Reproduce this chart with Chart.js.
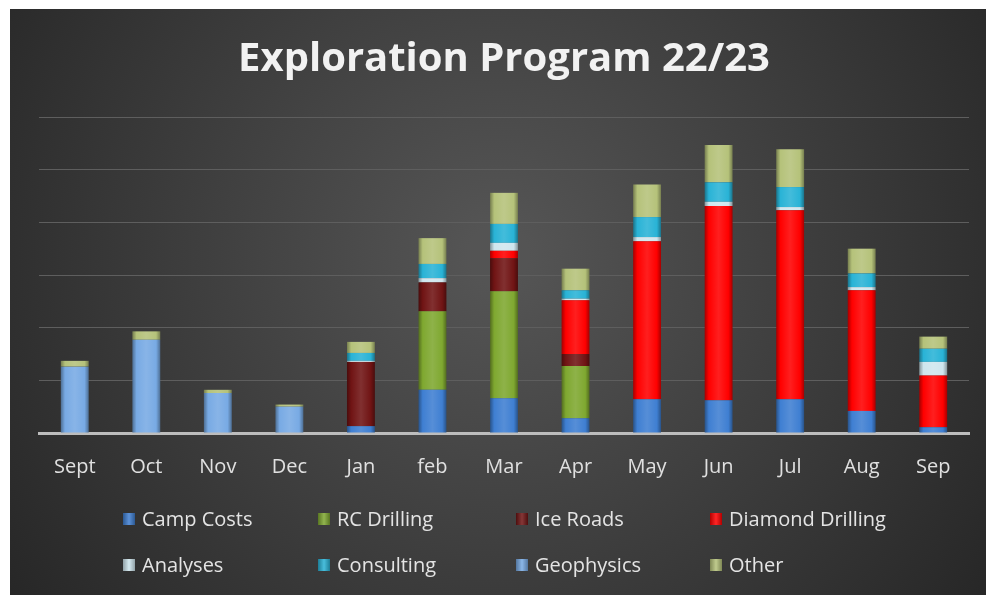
<!DOCTYPE html>
<html>
<head>
<meta charset="utf-8">
<script src="https://cdn.jsdelivr.net/npm/chart.js@4/dist/chart.umd.min.js"></script>
<style>
    body { margin: 0; background: #ffffff; }
    #wrap { position: absolute; left: 10px; top: 9px; width: 976px; height: 586px; }
</style>
</head>
<body>
<div id="wrap"><canvas id="exploChart"></canvas></div>
<script>
// Data (k$, one gridline = 100)
const months = ['Sept', 'Oct', 'Nov', 'Dec', 'Jan', 'feb', 'Mar', 'Apr', 'May', 'Jun', 'Jul', 'Aug', 'Sep'];
const campCosts =       [0, 0, 0, 0, 13, 82, 66, 28, 64, 62, 64, 42, 11];
const rcDrilling =      [0, 0, 0, 0, 0, 149, 203, 99, 0, 0, 0, 0, 0];
const iceRoads =        [0, 0, 0, 0, 122, 55, 63, 23, 0, 0, 0, 0, 0];
const diamondDrilling = [0, 0, 0, 0, 0, 0, 14, 102, 300, 369, 359, 229, 98];
const analyses =        [0, 0, 0, 0, 2, 8, 15, 3, 8, 8, 6, 6, 26];
const consulting =      [0, 0, 0, 0, 15, 27, 36, 16, 38, 37, 38, 26, 25];
const geophysics =      [126, 177, 76, 50, 0, 0, 0, 0, 0, 0, 0, 0, 0];
const other =           [11, 16, 6, 4, 21, 49, 59, 41, 62, 71, 72, 47, 23];

const BAR_PCT = 0.39;

// Shade a hex colour (amt -1..1)
function shade(hex, amt) {
    const n = parseInt(hex.slice(1), 16);
    let r = (n >> 16) & 255, g = (n >> 8) & 255, b = n & 255;
    const t = amt < 0 ? 0 : 255, p = Math.abs(amt);
    r = Math.round((t - r) * p + r);
    g = Math.round((t - g) * p + g);
    b = Math.round((t - b) * p + b);
    return `rgb(${r},${g},${b})`;
}

// Glossy horizontal gradient per bar
function barFill(hex) {
    return (ctx) => {
        const chart = ctx.chart;
        if (!chart.chartArea || ctx.dataIndex === undefined) return hex;
        const xs = chart.scales.x;
        const x = xs.getPixelForValue(ctx.dataIndex);
        const w = chart.chartArea.width / months.length * BAR_PCT;
        const g = chart.ctx.createLinearGradient(x - w / 2, 0, x + w / 2, 0);
        g.addColorStop(0, shade(hex, -0.35));
        g.addColorStop(0.15, hex);
        g.addColorStop(0.5, shade(hex, 0.12));
        g.addColorStop(0.85, hex);
        g.addColorStop(1, shade(hex, -0.35));
        return g;
    };
}

function makeSet(label, data, color) {
    return {
        label: label,
        data: data,
        baseColor: color,
        backgroundColor: barFill(color),
        borderWidth: 0,
        barPercentage: BAR_PCT,
        categoryPercentage: 1
    };
}

// Background plugin
const bgPlugin = {
    id: 'bg',
    beforeDraw(chart) {
        const { ctx, width, height } = chart;
        const g = ctx.createRadialGradient(width * 0.5, height * 0.42, 30, width * 0.5, height * 0.42, width * 0.62);
        g.addColorStop(0, '#545454');
        g.addColorStop(1, '#262626');
        ctx.save();
        ctx.fillStyle = g;
        ctx.fillRect(0, 0, width, height);
        ctx.restore();
    }
};

// Grid legend, 4 columns
const gridLegend = {
    id: 'gridLegend',
    afterDraw(chart) {
        const { ctx } = chart;
        const colX = [113, 308, 506, 700];
        const rowY = [510, 556];
        ctx.save();
        ctx.font = '20px "Open Sans"';
        ctx.textBaseline = 'middle';
        chart.data.datasets.forEach((ds, i) => {
            const x = colX[i % 4], y = rowY[Math.floor(i / 4)];
            const g = ctx.createLinearGradient(x, 0, x + 12, 0);
            g.addColorStop(0, shade(ds.baseColor, -0.3));
            g.addColorStop(0.5, shade(ds.baseColor, 0.15));
            g.addColorStop(1, shade(ds.baseColor, -0.3));
            ctx.fillStyle = g;
            ctx.fillRect(x, y - 6, 12, 12);
            ctx.fillStyle = '#e4e4e4';
            ctx.fillText(ds.label, x + 19, y + 1);
        });
        ctx.restore();
    }
};

const ctx = document.getElementById('exploChart').getContext('2d');
new Chart(ctx, {
    type: 'bar',
    data: {
        labels: months,
        datasets: [
            makeSet('Camp Costs', campCosts, '#3f7fd2'),
            makeSet('RC Drilling', rcDrilling, '#7fa830'),
            makeSet('Ice Roads', iceRoads, '#701414'),
            makeSet('Diamond Drilling', diamondDrilling, '#ff0000'),
            makeSet('Analyses', analyses, '#cfe6ee'),
            makeSet('Consulting', consulting, '#29b3d6'),
            makeSet('Geophysics', geophysics, '#78aae4'),
            makeSet('Other', other, '#b5c27a')
        ]
    },
    options: {
        responsive: true,
        maintainAspectRatio: false,
        animation: false,
        layout: {
            padding: { left: 29, right: 17, top: 0, bottom: 102 }
        },
        plugins: {
            legend: { display: false },
            tooltip: { enabled: false },
            title: {
                display: true,
                text: 'Exploration Program 22/23',
                color: '#f2f2f2',
                font: { family: '"Open Sans"', size: 40, weight: 'bold' },
                padding: { top: 27, bottom: 33 }
            }
        },
        scales: {
            x: {
                stacked: true,
                grid: { display: false },
                border: { color: '#bdbdbd', width: 3 },
                ticks: {
                    color: '#e0e0e0',
                    font: { family: '"Open Sans"', size: 20 },
                    padding: 14
                }
            },
            y: {
                stacked: true,
                min: 0,
                max: 600,
                border: { display: false },
                grid: { color: '#5e5e5e', lineWidth: 1, drawTicks: false },
                ticks: { display: false, stepSize: 100 }
            }
        }
    },
    plugins: [bgPlugin, gridLegend]
});
</script>
</body>
</html>
